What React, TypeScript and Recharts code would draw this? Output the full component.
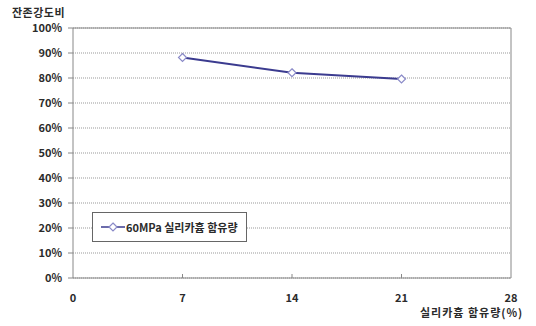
import React from "react";
import {
  LineChart,
  Line,
  XAxis,
  YAxis,
  CartesianGrid,
  ReferenceLine,
} from "recharts";

// 실리카흄 함유량(%) vs 잔존강도비
const contents = [7, 14, 21];
const residualRatio = [88.2, 82.1, 79.6];
const xTicks = [0, 7, 14, 21, 28];
const yTicks = [0, 10, 20, 30, 40, 50, 60, 70, 80, 90, 100];
const seriesName = "60MPa 실리카흄 함유량";

const data = contents.map((c, i) => ({ content: c, ratio: residualRatio[i] }));

const FONT = "'Noto Sans CJK KR', 'DejaVu Sans', sans-serif";
const TEXT = "#2b2b2b";
const LINE = "#3b3b8f";
const MARK = "#8a8ac8";
const AXIS_Y = 278;

const Diamond = (props: any) => {
  const { cx, cy } = props;
  if (cx == null || cy == null) return null;
  const r = 4;
  return (
    <path
      d={`M${cx},${cy - r} L${cx + r},${cy} L${cx},${cy + r} L${cx - r},${cy} Z`}
      fill="#fff"
      stroke={MARK}
      strokeWidth={1.2}
    />
  );
};

// x ticks sit inside the plot area, labels below
const XTick = (props: any) => {
  const { x, payload } = props;
  return (
    <g>
      {payload.value !== 0 && payload.value !== 28 && (
        <line x1={x} x2={x} y1={AXIS_Y} y2={AXIS_Y - 4} stroke="#888" />
      )}
      <text
        x={x}
        y={AXIS_Y + 24}
        textAnchor="middle"
        fontSize={11}
        fontWeight="bold"
        fontFamily={FONT}
        fill={TEXT}
      >
        {payload.value}
      </text>
    </g>
  );
};

const LegendBox = () => (
  <div
    style={{
      position: "absolute",
      left: 92,
      top: 212,
      width: 153,
      height: 28,
      border: "1px solid #666",
      background: "#fff",
      display: "flex",
      alignItems: "center",
      fontFamily: FONT,
      fontSize: 11,
      fontWeight: "bold",
      color: TEXT,
    }}
  >
    <svg width={24} height={12} style={{ marginLeft: 8 }}>
      <line x1={0} x2={24} y1={6} y2={6} stroke={LINE} strokeWidth={1.5} />
      <path d="M12,2 L16,6 L12,10 L8,6 Z" fill="#fff" stroke={MARK} strokeWidth={1.2} />
    </svg>
    <span style={{ marginLeft: 1, whiteSpace: "nowrap" }}>{seriesName}</span>
  </div>
);

export default function App() {
  return (
    <div style={{ position: "absolute", left: 0, top: 0, width: 536, height: 326, background: "#fff" }}>
      <LineChart
        width={536}
        height={326}
        data={data}
        margin={{ top: 28, right: 25, left: 0, bottom: 0 }}
      >
        <CartesianGrid
          vertical={false}
          stroke="#999"
          strokeDasharray="1 1"
        />
        <XAxis
          dataKey="content"
          type="number"
          domain={[0, 28]}
          ticks={xTicks}
          height={48}
          stroke="#888"
          tickLine={false}
          tick={<XTick />}
        />
        <YAxis
          type="number"
          domain={[0, 100]}
          ticks={yTicks}
          width={73}
          stroke="#888"
          tickSize={5}
          tickMargin={6}
          tickFormatter={(v: number) => `${v}%`}
          tick={{ fontSize: 11, fontWeight: "bold", fontFamily: FONT, fill: TEXT }}
        />
        <ReferenceLine y={100} stroke="#888" />
        <ReferenceLine x={28} stroke="#888" />
        <Line
          dataKey="ratio"
          name={seriesName}
          stroke={LINE}
          strokeWidth={2}
          dot={<Diamond />}
          isAnimationActive={false}
        />
        <text x={12} y={17} fontSize={11} fontWeight="bold" fontFamily={FONT} fill={TEXT} letterSpacing={0.5}>
          잔존강도비
        </text>
        <text
          x={420}
          y={317}
          fontSize={11}
          fontWeight="bold"
          fontFamily={FONT}
          fill={TEXT}
          letterSpacing={1}
        >
          실리카흄 함유량(%)
        </text>
      </LineChart>
      <LegendBox />
    </div>
  );
}
